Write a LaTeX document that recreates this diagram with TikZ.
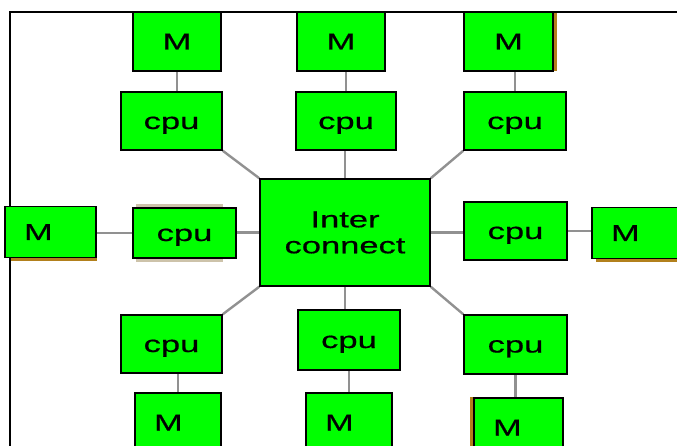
\documentclass[tikz,border=0pt]{standalone}
\usepackage{fontspec}
\newfontfamily\boxfont[FakeStretch=1.5,FakeBold=0.6]{Liberation Sans}
\usetikzlibrary{calc,backgrounds}
\definecolor{boxgreen}{RGB}{0,255,0}
\definecolor{wiregray}{RGB}{145,145,145}
\definecolor{rim}{RGB}{178,128,28}
\definecolor{ghost}{RGB}{205,195,170}
\tikzset{
  box/.style    ={draw=black, fill=boxgreen, line width=1.4pt, inner sep=0pt,
                  font=\boxfont\fontsize{23}{26}\selectfont,
                  text height=16pt, text depth=0pt},
  cpu/.style    ={box, minimum width=101pt, minimum height=58pt},
  mem/.style    ={box, minimum width=88pt, minimum height=59pt},
  memoff/.style ={box, align=left, inner xsep=19pt, text width=#1,
                  minimum height=59pt},
  hub/.style    ={box, align=center, text height=, text depth=,
                  minimum width=170pt, minimum height=107pt},
  wire/.style   ={draw=wiregray, line width=2.4pt},
  outline/.style={draw=black, line width=1.5pt},
}

\begin{document}
\begin{tikzpicture}[x=1pt,y=-1pt]
  \useasboundingbox (0,0) rectangle (677,446);
  \clip (0,0) rectangle (677,446);

  % outer frame
  \draw[outline] (677,12) -- (10,12) -- (10,446);

  % interconnect
  \node[hub] (ic) at (345,232.5) {Inter\\connect};

  % top row
  \node[mem] (mT1) at (177,41.5)  {M};
  \node[mem] (mT2) at (341,41.5)  {M};
  \node[mem, minimum width=89pt] (mT3) at (508.5,41.5) {M};
  \node[cpu] (cT1) at (171.5,121) {cpu};
  \node[cpu, minimum width=100pt] (cT2) at (346,121) {cpu};
  \node[cpu, minimum width=102pt] (cT3) at (515,121) {cpu};

  % middle row
  \node[memoff=53pt, minimum height=51pt] (mL) at (50.5,232) {M};
  \node[cpu, minimum width=103pt, minimum height=50pt] (cL) at (184.5,233) {cpu};
  \node[cpu, minimum width=103pt] (cR) at (515.5,231) {cpu};
  \node[memoff=53pt, minimum height=51pt] (mR) at (637.5,233) {M};

  % bottom row
  \node[cpu] (cB1) at (171.5,344) {cpu};
  \node[cpu, minimum width=102pt, minimum height=60pt] (cB2) at (349,340) {cpu};
  \node[cpu, minimum width=103pt, minimum height=59pt] (cB3) at (515.5,344.5) {cpu};
  \node[memoff=48pt] (mB1) at (178,422.5)   {M};
  \node[memoff=48pt] (mB2) at (349,422.5)   {M};
  \node[memoff=51pt] (mB3) at (518.5,427.5) {M};

  \begin{scope}[on background layer]
    % coloured rims behind some boxes
    \fill[rim] ($(mT3.north east)+(-1,1)$) rectangle ($(mT3.south east)+(3,-1)$);
    \fill[rim] ($(mL.south west)+(7,-1)$) rectangle ($(mL.south east)+(0,3)$);
    \fill[rim] ($(mR.south west)+(5,-1)$) rectangle ($(mR.south east)+(0,3)$);
    \fill[rim] ($(mB3.north west)+(-3,0)$) rectangle ($(mB3.south west)+(1,0)$);
    \fill[ghost] ($(cL.north west)+(4,-3)$) rectangle ($(cL.south east)+(-14,3)$);

    % memory links
    \draw[wire] (mT1.south) -- (mT1.south |- cT1.north);
    \draw[wire] (cT2.north) -- (cT2.north |- mT2.south);
    \draw[wire] (cT3.north) -- (cT3.north |- mT3.south);
    \draw[wire] (mB1.north) -- (mB1.north |- cB1.south);
    \draw[wire] (cB2.south) -- (cB2.south |- mB2.north);
    \draw[wire] (cB3.south) -- (cB3.south |- mB3.north);
    \draw[wire] (cL.west) -- (cL.west -| mL.east);
    \draw[wire] (cR.east) -- (cR.east -| mR.west);

    % cpu to interconnect
    \draw[wire] (ic.north) -- (ic.north |- cT2.south);
    \draw[wire] (ic.south) -- (ic.south |- cB2.north);
    \draw[wire] (ic.west) -- (ic.west -| cL.east);
    \draw[wire] (ic.east) -- (ic.east -| cR.west);
    \draw[wire] (cT1.south east) -- (ic.north west);
    \draw[wire] (cT3.south west) -- (ic.north east);
    \draw[wire] (cB1.north east) -- (ic.south west);
    \draw[wire] (cB3.north west) -- (ic.south east);
  \end{scope}
\end{tikzpicture}
\end{document}
